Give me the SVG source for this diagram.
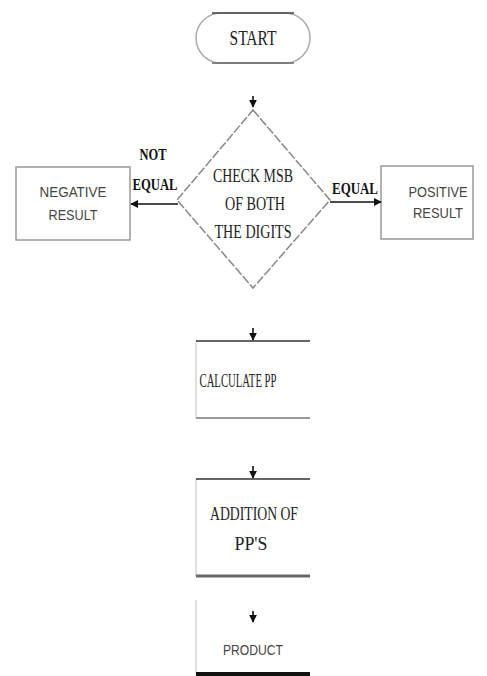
<svg xmlns="http://www.w3.org/2000/svg" width="487" height="676" viewBox="0 0 487 676">
<style>
.serif{font-family:"Liberation Serif","Times New Roman",serif;fill:#222;text-anchor:middle}
.sans{font-family:"Liberation Sans",Arial,sans-serif;fill:#444;text-anchor:middle}
.lbl{font-family:"Liberation Serif","Times New Roman",serif;font-weight:bold;fill:#111;text-anchor:middle}
.box{fill:#fff;stroke:#999;stroke-width:1.5}
.side{stroke:#ccc;stroke-width:1.2}
.conn{stroke:#111;stroke-width:1.6;fill:none}
</style>
<defs>
<marker id="ah" viewBox="0 0 10 10" refX="9" refY="5" markerWidth="5" markerHeight="5" orient="auto">
<path d="M0,0 L10,5 L0,10 z" fill="#111"/>
</marker>
</defs>
<rect width="487" height="676" fill="#fff"/>
<g id="start">
<rect x="196" y="13" width="114" height="50" rx="25" ry="25" fill="#fff" stroke="#aaa" stroke-width="1.5"/>
<line x1="212" y1="13" x2="294" y2="13" stroke="#444" stroke-width="1.6"/>
<line x1="212" y1="63" x2="294" y2="63" stroke="#666" stroke-width="1.4"/>
<text class="serif" x="253" y="45" font-size="21" textLength="47" lengthAdjust="spacingAndGlyphs">START</text>
</g>
<g id="check">
<polygon points="253,110 330,200 253,288 177,200" fill="#fff" stroke="#888" stroke-width="1.5" stroke-dasharray="9 2"/>
<text class="serif" x="253" y="182" font-size="19" textLength="80" lengthAdjust="spacingAndGlyphs">CHECK MSB</text>
<text class="serif" x="255" y="210" font-size="19" textLength="60" lengthAdjust="spacingAndGlyphs">OF BOTH</text>
<text class="serif" x="253" y="238" font-size="19" textLength="77" lengthAdjust="spacingAndGlyphs">THE DIGITS</text>
</g>
<g id="negative">
<rect class="box" x="16" y="167" width="114" height="73"/>
<text class="sans" x="73" y="197" font-size="15" textLength="67" lengthAdjust="spacingAndGlyphs">NEGATIVE</text>
<text class="sans" x="73" y="220" font-size="15" textLength="49" lengthAdjust="spacingAndGlyphs">RESULT</text>
</g>
<g id="positive">
<rect class="box" x="381" y="166" width="92" height="73"/>
<text class="sans" x="438" y="197" font-size="15" textLength="59" lengthAdjust="spacingAndGlyphs">POSITIVE</text>
<text class="sans" x="438" y="218" font-size="15" textLength="50" lengthAdjust="spacingAndGlyphs">RESULT</text>
</g>
<g id="calculate">
<line class="side" x1="196" y1="341" x2="196" y2="418"/>
<line x1="196" y1="341" x2="310" y2="341" stroke="#333" stroke-width="1.6"/>
<line x1="196" y1="418" x2="310" y2="418" stroke="#777" stroke-width="1.6"/>
<text class="serif" x="238" y="387" font-size="19" textLength="77" lengthAdjust="spacingAndGlyphs">CALCULATE PP</text>
</g>
<g id="addition">
<line class="side" x1="196" y1="479" x2="196" y2="576"/>
<line x1="196" y1="479" x2="310" y2="479" stroke="#333" stroke-width="1.6"/>
<line x1="196" y1="576" x2="310" y2="576" stroke="#666" stroke-width="3"/>
<text class="serif" x="254" y="520" font-size="19" textLength="88" lengthAdjust="spacingAndGlyphs">ADDITION OF</text>
<text class="serif" x="251" y="550" font-size="19" textLength="33" lengthAdjust="spacingAndGlyphs">PP'S</text>
</g>
<g id="product">
<line class="side" x1="196" y1="600" x2="196" y2="674"/>
<line x1="196" y1="674" x2="310" y2="674" stroke="#111" stroke-width="4"/>
<text class="sans" x="253" y="655" font-size="15" textLength="60" lengthAdjust="spacingAndGlyphs">PRODUCT</text>
</g>
<g id="connectors">
<line class="conn" x1="253" y1="96" x2="253" y2="107" marker-end="url(#ah)"/>
<line class="conn" x1="178" y1="204" x2="131" y2="204" marker-end="url(#ah)"/>
<line class="conn" x1="330" y1="202" x2="381" y2="202" marker-end="url(#ah)"/>
<line class="conn" x1="253" y1="328" x2="253" y2="340" marker-end="url(#ah)"/>
<line class="conn" x1="253" y1="466" x2="253" y2="478" marker-end="url(#ah)"/>
<line class="conn" x1="253" y1="611" x2="253" y2="622" marker-end="url(#ah)"/>
<text class="lbl" x="153" y="160" font-size="17" textLength="27" lengthAdjust="spacingAndGlyphs">NOT</text>
<text class="lbl" x="155" y="190" font-size="17" textLength="45" lengthAdjust="spacingAndGlyphs">EQUAL</text>
<text class="lbl" x="355" y="194" font-size="17" textLength="46" lengthAdjust="spacingAndGlyphs">EQUAL</text>
</g>
</svg>
